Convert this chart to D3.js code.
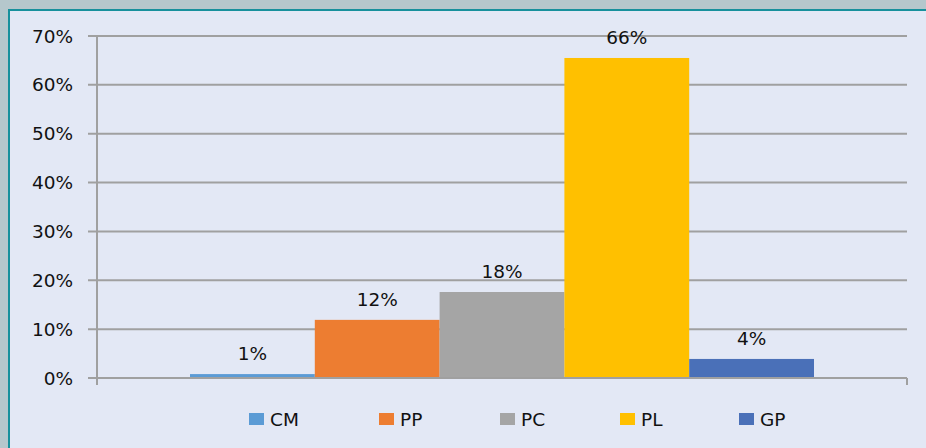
<!DOCTYPE html>
<html lang="en">
<head>
    <meta charset="UTF-8">
    <title>chart</title>
    <script src="https://cdn.jsdelivr.net/npm/d3@7"></script>
    <style>
        body { margin: 0; background: #b5c7cc; }
        svg { display: block; }
        text { font-family: "DejaVu Sans", Verdana, sans-serif; fill: #111; }
    </style>
</head>
<body>
    <svg width="926" height="448"></svg>
    <script>
        // data
        var series = ["CM", "PP", "PC", "PL", "GP"]
        var values = [0.008, 0.119, 0.176, 0.655, 0.039]
        var labels = ["1%", "12%", "18%", "66%", "4%"]
        var colors = ["#5b9bd5", "#ed7d31", "#a5a5a5", "#ffc000", "#4a70b8"]
        var yTicks = [0, 0.1, 0.2, 0.3, 0.4, 0.5, 0.6, 0.7]

        var svg = d3.select("svg")
        var fontSize = 18.5

        // chart panel with teal border on top/left
        svg.append("rect").attr("x", 9).attr("y", 10).attr("width", 940).attr("height", 460)
            .attr("fill", "#e3e8f5").attr("stroke", "#17909c").attr("stroke-width", 2)

        var plotLeft = 97, plotRight = 907, plotTop = 36, plotBottom = 378

        var y = d3.scaleLinear().domain([0, 0.7]).range([plotBottom, plotTop])
        // one category, five series side by side
        var x = d3.scaleBand().domain(series).range([190, 814]).padding(0)

        // gridlines
        svg.append("g").selectAll("line").data(yTicks).enter().append("line")
            .attr("x1", plotLeft - 9).attr("x2", plotRight)
            .attr("y1", d => y(d)).attr("y2", d => y(d))
            .attr("stroke", "#a0a0a0").attr("stroke-width", 2)

        // y axis line
        svg.append("line").attr("x1", plotLeft).attr("x2", plotLeft)
            .attr("y1", plotTop).attr("y2", plotBottom + 7)
            .attr("stroke", "#a0a0a0").attr("stroke-width", 2)
        svg.append("line").attr("x1", plotRight).attr("x2", plotRight)
            .attr("y1", plotBottom).attr("y2", plotBottom + 7)
            .attr("stroke", "#a0a0a0").attr("stroke-width", 2)

        // tick labels
        svg.append("g").selectAll("text").data(yTicks).enter().append("text")
            .attr("x", 73).attr("y", d => y(d) + 6.5)
            .attr("text-anchor", "end")
            .style("font-size", fontSize + "px")
            .text(d3.format(".0%"))

        // bars
        svg.append("g").selectAll("rect").data(values).enter().append("rect")
            .attr("x", (d, i) => x(series[i]))
            .attr("width", x.bandwidth())
            .attr("y", d => y(d))
            .attr("height", d => plotBottom - y(d))
            .attr("fill", (d, i) => colors[i])

        // redraw baseline on top of bars
        svg.append("line").attr("x1", plotLeft - 9).attr("x2", plotRight)
            .attr("y1", plotBottom).attr("y2", plotBottom)
            .attr("stroke", "#a0a0a0").attr("stroke-width", 2)

        // data labels
        svg.append("g").selectAll("text").data(values).enter().append("text")
            .attr("x", (d, i) => x(series[i]) + x.bandwidth() / 2)
            .attr("y", d => y(d) - 14)
            .attr("text-anchor", "middle")
            .style("font-size", fontSize + "px")
            .text((d, i) => labels[i])

        // legend
        var legendX = [249, 379, 500, 620, 739]
        var lg = svg.append("g").selectAll("g").data(series).enter().append("g")
            .attr("transform", (d, i) => `translate(${legendX[i]},413)`)
        lg.append("rect").attr("width", 15).attr("height", 12).attr("fill", (d, i) => colors[i])
        lg.append("text").attr("x", 21).attr("y", 12.5)
            .style("font-size", fontSize + "px")
            .text(d => d)
    </script>
</body>
</html>
